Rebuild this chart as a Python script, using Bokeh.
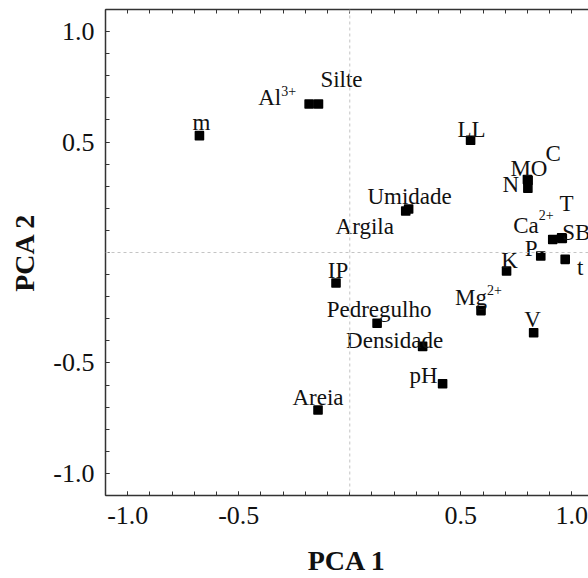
from bokeh.plotting import figure
from bokeh.models import ColumnDataSource, LinearAxis, FixedTicker, Range1d, Span
from bokeh.embed import file_html
from bokeh.resources import INLINE
from bokeh.core.properties import value

# ---- data ----
variables = ["m", "Al", "Silte", "LL", "MO", "C", "N", "Umidade", "Argila",
             "Ca", "T", "SB", "P", "t", "K", "IP", "Mg", "V",
             "Pedregulho", "Densidade", "pH", "Areia"]
pca1 = [-0.677, -0.183, -0.141, 0.544, 0.800, 0.803, 0.802, 0.265, 0.252,
        0.914, 0.954, 0.957, 0.860, 0.970, 0.706, -0.062, 0.591, 0.828,
        0.123, 0.328, 0.418, -0.143]
pca2 = [0.529, 0.672, 0.672, 0.508, 0.330, 0.327, 0.291, 0.197, 0.188,
        0.059, 0.066, 0.064, -0.016, -0.031, -0.084, -0.138, -0.263, -0.363,
        -0.320, -0.425, -0.594, -0.713]
superscripts = {"Al": "3+", "Ca": "2+", "Mg": "2+"}

x_tick_values = [-1.0, -0.5, 0.5, 1.0]
x_tick_labels = ["-1.0", "-0.5", "0.5", "1.0"]
y_tick_values = [-1.0, -0.5, 0.5, 1.0]
y_tick_labels = ["-1.0", "-0.5", "0.5", "1.0"]

# ---- label placement (screen px offsets from the point) ----
label_place = {
    "m": (2, -13, "center"), "Al": (-28, -6.5, "right"), "Silte": (23, -25, "center"),
    "LL": (1, -11, "center"), "MO": (1.5, -11, "center"), "C": (25, -27, "center"),
    "N": (-17, -4, "center"), "Umidade": (1, -12.5, "center"), "Argila": (-41, 16, "center"),
    "Ca": (-14, -14, "right"), "T": (5, -34, "center"), "SB": (0, -6, "left"),
    "P": (-9.5, -7.5, "center"), "t": (15, 8, "center"), "K": (3, -11, "center"),
    "IP": (2, -12, "center"), "Mg": (6, -13, "right"), "V": (-1, -13, "center"),
    "Pedregulho": (2, -14, "center"), "Densidade": (-28, -5.5, "center"),
    "pH": (-19, -8, "center"), "Areia": (0, -13, "center"),
}
sup_place = {"Al": (-28, -13.5), "Ca": (-14, -24), "Mg": (6, -21)}

FONT = value("Liberation Serif")
INK = "#111111"
AXIS = "#333333"

src = ColumnDataSource(dict(
    x=pca1, y=pca2, name=variables,
    dx=[label_place[v][0] for v in variables],
    dy=[label_place[v][1] for v in variables],
    align=[label_place[v][2] for v in variables],
))
sup_names = [v for v in variables if v in superscripts]
sup_src = ColumnDataSource(dict(
    x=[pca1[variables.index(v)] for v in sup_names],
    y=[pca2[variables.index(v)] for v in sup_names],
    txt=[superscripts[v] for v in sup_names],
    dx=[sup_place[v][0] for v in sup_names],
    dy=[sup_place[v][1] for v in sup_names],
))

p = figure(width=588, height=578, output_backend="svg", toolbar_location=None,
           x_range=Range1d(-1.1, 1.075), y_range=Range1d(-1.1, 1.1),
           x_axis_location=None, y_axis_location=None,
           min_border_left=105, min_border_right=0, min_border_top=9, min_border_bottom=80)
p.outline_line_color = None
p.xgrid.visible = False
p.ygrid.visible = False
p.background_fill_color = "white"
p.border_fill_color = "white"

minor = [round(-1.1 + 0.1 * i, 2) for i in range(23)]

def style(ax):
    ax.axis_line_color = AXIS
    ax.axis_line_width = 1.5
    ax.major_tick_in = 4
    ax.major_tick_out = 0
    ax.minor_tick_in = 4
    ax.minor_tick_out = 0
    ax.major_tick_line_color = AXIS
    ax.minor_tick_line_color = AXIS
    ax.major_label_text_font = "Liberation Serif"
    ax.major_label_text_font_size = "26px"
    ax.major_label_text_color = INK
    ax.major_label_standoff = 11
    ax.axis_label_text_font = "Liberation Serif"
    ax.axis_label_text_font_style = "bold"
    ax.axis_label_text_font_size = "28px"
    ax.axis_label_text_color = INK

xb = LinearAxis(ticker=FixedTicker(ticks=x_tick_values, minor_ticks=minor),
                axis_label="PCA 1",
                major_label_overrides={t: s for t, s in zip(x_tick_values, x_tick_labels)})
style(xb)
xb.axis_label_standoff = 18
p.add_layout(xb, "below")

yl = LinearAxis(ticker=FixedTicker(ticks=y_tick_values, minor_ticks=minor),
                axis_label="PCA 2",
                major_label_overrides={t: s for t, s in zip(y_tick_values, y_tick_labels)})
style(yl)
yl.axis_label_standoff = 10
p.add_layout(yl, "left")

xt = LinearAxis(ticker=FixedTicker(ticks=[], minor_ticks=minor))
style(xt)
xt.major_label_standoff = 0
p.add_layout(xt, "above")

p.add_layout(Span(location=0, dimension="height", line_color="#c4c4c4", line_dash="3 3", line_width=1))
p.add_layout(Span(location=0, dimension="width", line_color="#c4c4c4", line_dash="3 3", line_width=1))

p.scatter("x", "y", source=src, marker="square", size=8, fill_color="black",
          line_color="black", line_width=1.6, line_join="round")

p.text("x", "y", text="name", source=src, x_offset="dx", y_offset="dy",
       text_align="align", text_baseline="alphabetic", text_font=FONT,
       text_font_size="23px", text_color=INK)
p.text("x", "y", text="txt", source=sup_src, x_offset="dx", y_offset="dy",
       text_align="left", text_baseline="alphabetic", text_font=FONT,
       text_font_size="14px", text_color=INK)

open("out.html", "w").write(file_html(p, INLINE))
